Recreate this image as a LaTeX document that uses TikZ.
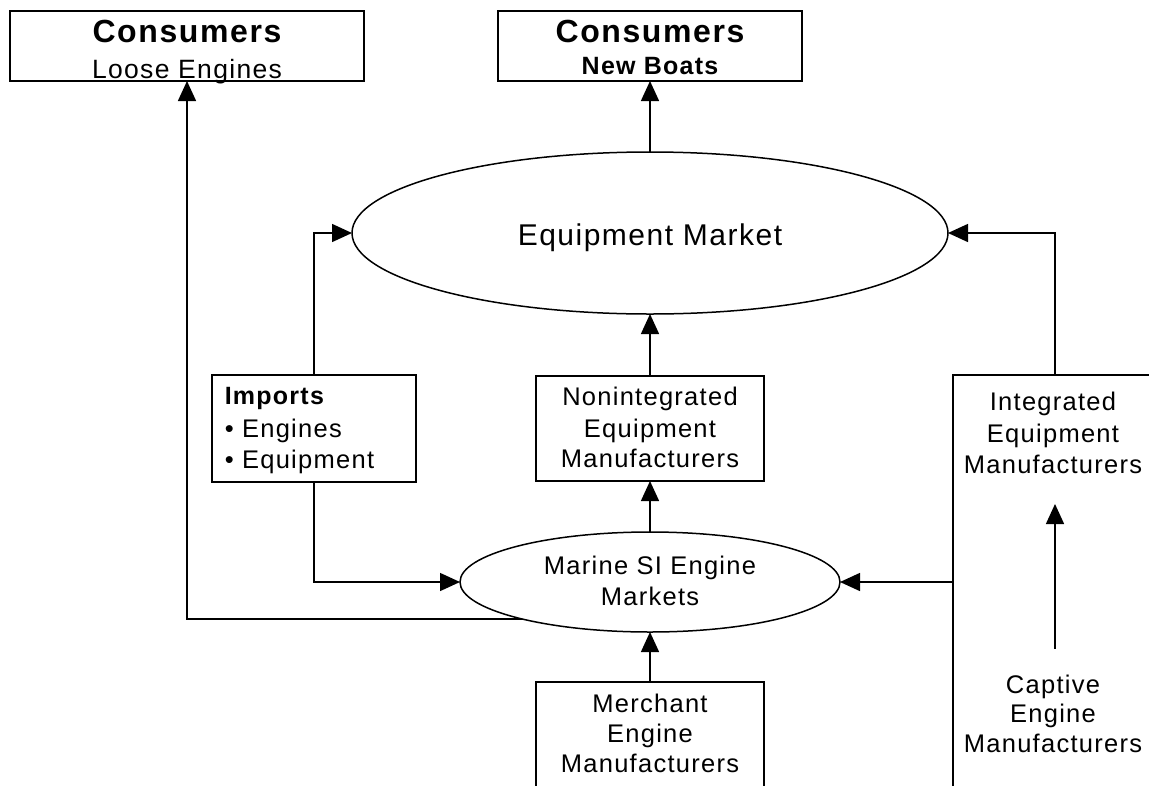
\documentclass[tikz,border=0pt]{standalone}
\usepackage{fontspec}
\setmainfont{Liberation Sans}[LetterSpace=5]
\usetikzlibrary{arrows.meta,shapes.geometric}
\begin{document}
\begin{tikzpicture}[x=1pt,y=-1pt,
  line width=1.5pt,
  box/.style={draw, rectangle, inner sep=0pt, outer sep=0pt},
  oval/.style={draw, ellipse, inner sep=0pt, outer sep=0pt},
  txt/.style={anchor=base, inner sep=0pt, font=\fontsize{25.5}{30}\selectfont},
  txtb/.style={txt, font=\fontsize{25}{30}\selectfont\bfseries},
  big/.style={txt, font=\fontsize{32}{36}\selectfont\bfseries},
  arr/.style={-{Triangle[length=20pt,width=18pt]}},
]
\useasboundingbox (0,0) rectangle (1149,785);
\clip (0,0) rectangle (1149,785);

% top consumer boxes
\node[box, minimum width=354pt, minimum height=70pt] (c1) at (187,46) {};
\node[big] (c1a) at (187,42) {Consumers};
\node[txt, font=\fontsize{26.5}{30}\selectfont] (c1b) at (187,78) {Loose Engines};

\node[box, minimum width=304pt, minimum height=70pt] (c2) at (650,46) {};
\node[big] (c2a) at (650,42) {Consumers};
\node[txtb] (c2b) at (650,74) {New Boats};

% equipment market
\node[oval, minimum width=596pt, minimum height=162pt] (em) at (650,233) {};
\node[txt, font=\fontsize{30}{30}\selectfont] (emt) at (650,245) {Equipment Market};

% imports
\node[box, minimum width=204pt, minimum height=107pt] (imp) at (314,428.5) {};
\node[txtb, anchor=base west] (imp1) at (224,404) {Imports};
\node[txt, anchor=base west] (imp2) at (224,437) {• Engines};
\node[txt, anchor=base west] (imp3) at (224,468) {• Equipment};

% nonintegrated
\node[box, minimum width=228pt, minimum height=105pt] (non) at (650,428.5) {};
\node[txt] (non1) at (650,405) {Nonintegrated};
\node[txt] (non2) at (650,437) {Equipment};
\node[txt] (non3) at (650,467) {Manufacturers};

% marine SI engine markets
\node[oval, minimum width=380pt, minimum height=100pt] (mar) at (650,582) {};
\node[txt] (mar1) at (650,574) {Marine SI Engine};
\node[txt] (mar2) at (650,605) {Markets};

% merchant
\node[box, minimum width=228pt, minimum height=168pt] (mer) at (650,766) {};
\node[txt] (mer1) at (650,712) {Merchant};
\node[txt] (mer2) at (650,742) {Engine};
\node[txt] (mer3) at (650,772) {Manufacturers};

% integrated / captive
\node[box, minimum width=297pt, minimum height=525pt] (ib) at (1101.5,637.5) {};
\node[txt] (int1) at (1053,410) {Integrated};
\node[txt] (int2) at (1053,442) {Equipment};
\node[txt] (int3) at (1053,473) {Manufacturers};
\node[txt] (cap1) at (1053,693) {Captive};
\node[txt] (cap2) at (1053,722) {Engine};
\node[txt] (cap3) at (1053,752) {Manufacturers};
\coordinate (ibt) at (1055,375);

% connectors
\draw[arr] (em.north) -- (c2.south);
\draw[arr] (mar.196) -| (c1.south);
\draw[arr] (imp.north) |- (em.west);
\draw[arr] (imp.south) |- (mar.west);
\draw[arr] (non.north) -- (em.south);
\draw[arr] (mar.north) -- (non.south);
\draw[arr] (mer.north) -- (mar.south);
\draw[arr] (ibt) |- (em.east);
\draw[arr] (mar.east -| ib.west) -- (mar.east);
\draw[arr, shorten <=25pt, shorten >=30pt] (cap1.north -| ibt) -- (int3.south -| ibt);
\end{tikzpicture}
\end{document}
